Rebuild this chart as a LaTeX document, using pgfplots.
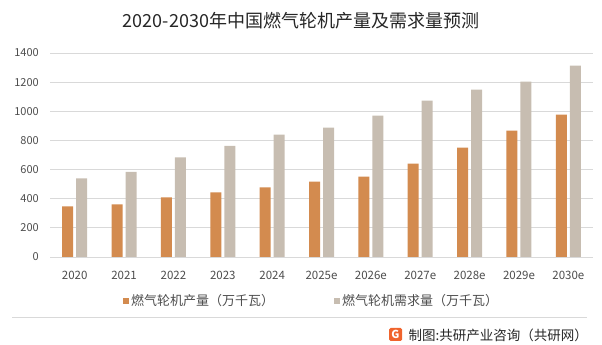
\documentclass[border=0pt]{standalone}
\usepackage{pgfplots}
\pgfplotsset{compat=1.18}
\usepackage{fontspec}
\setmainfont{Noto Sans CJK SC}
\definecolor{cprod}{HTML}{D38B4F}
\definecolor{cdem}{HTML}{C7BDB1}
\definecolor{cgrid}{HTML}{D9D9D9}
\definecolor{ctick}{HTML}{4D4D4D}
\definecolor{ctitle}{HTML}{262626}
\definecolor{clogo}{HTML}{F0642D}
\begin{document}
\begin{tikzpicture}
\useasboundingbox (0,0) rectangle (602bp,345bp);
\node[text=ctitle, font=\fontsize{18bp}{20bp}\selectfont, inner sep=0pt] at (301bp,324bp) {2020-2030年中国燃气轮机产量及需求量预测};
\begin{axis}[
  at={(50bp,88bp)}, anchor=south west,
  scale only axis, width=543bp, height=204bp,
  ybar=3bp, bar width=11bp,
  xmin=-0.5, xmax=10.5, ymin=0, ymax=1400,
  xtick=data,
  xticklabels={2020,2021,2022,2023,2024,2025e,2026e,2027e,2028e,2029e,2030e},
  ytick={0,200,...,1400},
  ymajorgrids, major grid style={draw=cgrid, line width=0.8bp},
  axis line style={draw=none},
  major tick length=0pt,
  /pgf/number format/assume math mode=true,
  /pgf/number format/1000 sep={},
  tick label style={text=ctick, font=\fontsize{11bp}{12bp}\selectfont, inner sep=0pt},
  xticklabel style={anchor=center, yshift=-18bp, font=\fontsize{11.5bp}{12bp}\selectfont},
  yticklabel style={anchor=east, xshift=-11bp},
  legend columns=2,
  legend style={at={(0.4816,-0.214)}, anchor=center, draw=none, fill=none,
    font=\fontsize{13bp}{14bp}\selectfont, text=ctick,
    /tikz/every even column/.append style={column sep=58bp}},
  legend image code/.code={\fill[#1] (0bp,-3bp) rectangle (6bp,3bp);},
]
\addplot[fill=cprod, draw=none] coordinates {
(0,347) (1,361) (2,409) (3,443) (4,477) (5,517) (6,551) (7,641) (8,751) (9,867) (10,977)};
\addplot[fill=cdem, draw=none] coordinates {
(0,539) (1,585) (2,683) (3,763) (4,839) (5,888) (6,970) (7,1073) (8,1149) (9,1204) (10,1313)};
\legend{燃气轮机产量（万千瓦）, 燃气轮机需求量（万千瓦）}
\end{axis}
\draw[cgrid, line width=0.8bp] (12bp,27.3bp) -- (587bp,27.3bp);
\fill[clogo, rounded corners=1.5bp] (389bp,4bp) rectangle (402bp,17bp);
\node[text=white, font=\bfseries\fontsize{11bp}{12bp}\selectfont, inner sep=0pt] at (395.5bp,10.5bp) {G};
\node[anchor=east, text=ctitle, font=\fontsize{13.5bp}{14bp}\selectfont, inner sep=0pt] at (588bp,10bp) {制图:共研产业咨询（共研网）};
\end{tikzpicture}
\end{document}
